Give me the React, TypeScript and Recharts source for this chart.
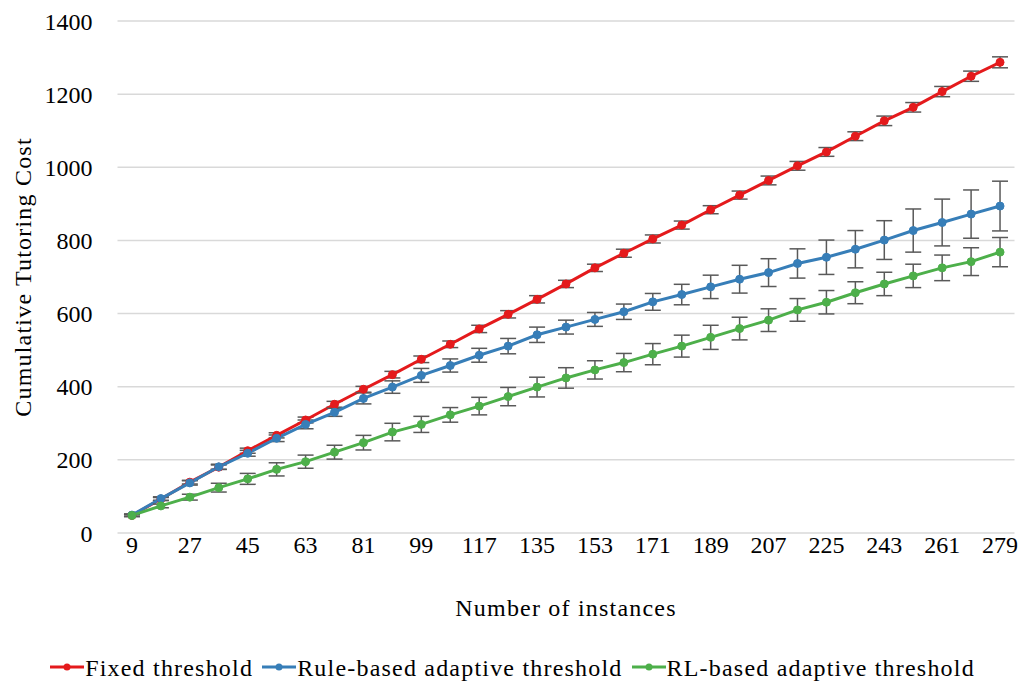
import React from "react";
import { LineChart, Line, XAxis, YAxis, CartesianGrid, ErrorBar } from "recharts";

const instances = [9, 18, 27, 36, 45, 54, 63, 72, 81, 90, 99, 108, 117, 126, 135, 144, 153, 162, 171, 180, 189, 198, 207, 216, 225, 234, 243, 252, 261, 270, 279];
const xTicks = [9, 27, 45, 63, 81, 99, 117, 135, 153, 171, 189, 207, 225, 243, 261, 279];
const yTicks = [0, 200, 400, 600, 800, 1000, 1200, 1400];

const fixedCost = [48, 93, 139, 180, 225, 267, 309, 352, 393, 433, 475, 516, 558, 598, 639, 681, 725, 765, 804, 842, 884, 924, 964, 1004, 1042, 1085, 1127, 1164, 1207, 1249, 1287];
const fixedErr = [3, 4, 5, 6, 7, 7, 8, 8, 8, 9, 9, 9, 10, 10, 10, 10, 10, 11, 11, 11, 11, 11, 12, 12, 12, 12, 13, 13, 14, 14, 15];
const ruleCost = [49, 94, 137, 181, 218, 259, 297, 330, 368, 399, 431, 458, 486, 511, 542, 563, 584, 605, 632, 652, 673, 694, 712, 737, 754, 776, 801, 827, 849, 872, 894];
const ruleErr = [3, 5, 6, 7, 8, 9, 12, 11, 15, 17, 19, 18, 19, 21, 21, 19, 19, 21, 23, 28, 32, 38, 38, 40, 47, 51, 53, 59, 64, 66, 68];
const rlCost = [48, 74, 98, 124, 148, 174, 195, 221, 247, 276, 297, 323, 347, 373, 399, 424, 446, 466, 489, 511, 535, 559, 582, 610, 631, 657, 681, 703, 725, 742, 768];
const rlErr = [3, 5, 8, 12, 15, 18, 18, 19, 20, 24, 22, 20, 24, 25, 27, 28, 25, 25, 29, 30, 33, 31, 31, 31, 32, 30, 32, 32, 35, 38, 40];

const seriesNames = ["Fixed threshold", "Rule-based adaptive threshold", "RL-based adaptive threshold"];
const colors = ["#e41a1c", "#377eb8", "#4daf4a"];

const data = instances.map((n, i) => ({
  n,
  fixed: fixedCost[i],
  fixedErr: fixedErr[i],
  rule: ruleCost[i],
  ruleErr: ruleErr[i],
  rl: rlCost[i],
  rlErr: rlErr[i],
}));

const FONT = "Liberation Serif, Times New Roman, Times, DejaVu Serif, serif";
const tickStyle = { fontFamily: FONT, fontSize: 24, fill: "#000" };
const titleStyle = { fontFamily: FONT, fontSize: 24, fill: "#000", letterSpacing: 1.2 };

export default function App() {
  const keys = ["fixed", "rule", "rl"];
  return (
    <div style={{ position: "absolute", left: 0, top: 0, width: 1025, height: 682, background: "#fff", fontFamily: FONT }}>
      <LineChart width={1025} height={682} data={data} margin={{ top: 21, right: 10.5, bottom: 59, left: 10 }} style={{ fontFamily: FONT }}>
        <CartesianGrid vertical={false} stroke="#d9d9d9" strokeWidth={1.5} />
        <XAxis
          dataKey="n"
          type="number"
          domain={[4.5, 283.5]}
          ticks={xTicks}
          axisLine={false}
          tickLine={false}
          tickSize={0}
          tickMargin={3}
          height={90}
          tick={tickStyle}
          interval={0}
          label={{ value: "Number of instances", position: "insideTop", offset: 66, style: titleStyle }}
        />
        <YAxis
          type="number"
          domain={[0, 1400]}
          ticks={yTicks}
          axisLine={false}
          tickLine={false}
          tickSize={0}
          tickMargin={25}
          width={107.5}
          tick={tickStyle}
          interval={0}
          label={{ value: "Cumulative  Tutoring Cost", angle: -90, position: "insideLeft", offset: 12, style: { ...titleStyle, textAnchor: "middle", whiteSpace: "pre" } }}
        />
        {keys.map((k, i) => (
          <Line
            key={k}
            type="linear"
            dataKey={k}
            name={seriesNames[i]}
            stroke={colors[i]}
            strokeWidth={3}
            dot={{ r: 4, fill: colors[i], stroke: colors[i], strokeWidth: 1 }}
            activeDot={false}
            isAnimationActive={false}
          >
            <ErrorBar dataKey={k + "Err"} direction="y" width={8} stroke="#595959" strokeWidth={1.5} isAnimationActive={false} />
          </Line>
        ))}
      </LineChart>
      <div
        style={{
          position: "absolute",
          left: 0,
          top: 655,
          width: 1025,
          display: "flex",
          justifyContent: "center",
          alignItems: "center",
          fontSize: 24,
          letterSpacing: 1.2,
          color: "#000",
          whiteSpace: "nowrap",
        }}
      >
        {seriesNames.map((name, i) => (
          <div key={name} style={{ display: "flex", alignItems: "center", marginRight: i < 2 ? 9 : 0 }}>
            <svg width={34} height={12} style={{ marginRight: 1, marginTop: -3 }}>
              <line x1={0} y1={6} x2={34} y2={6} stroke={colors[i]} strokeWidth={3} />
              <circle cx={17} cy={6} r={3.5} fill={colors[i]} />
            </svg>
            <span>{name}</span>
          </div>
        ))}
      </div>
    </div>
  );
}
